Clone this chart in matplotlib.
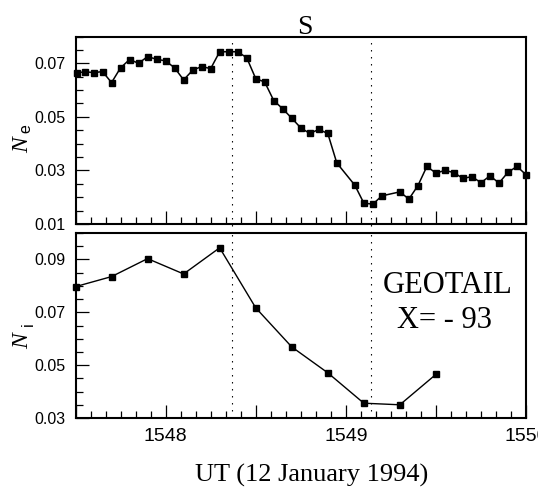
import matplotlib
matplotlib.use('Agg')
import matplotlib.pyplot as plt
from matplotlib.ticker import MultipleLocator, FixedLocator, FuncFormatter

# electron density, 3 s samples (UT as HHMM.fraction)
ne_time = [1547.51, 1547.55, 1547.60, 1547.65, 1547.70, 1547.75, 1547.80, 1547.85, 1547.90, 1547.95,
           1548.00, 1548.05, 1548.10, 1548.15, 1548.20, 1548.25, 1548.30, 1548.35, 1548.40, 1548.45,
           1548.50, 1548.55, 1548.60, 1548.65, 1548.70, 1548.75, 1548.80, 1548.85, 1548.90, 1548.95,
           1549.05, 1549.10, 1549.15, 1549.20,
           1549.30, 1549.35, 1549.40, 1549.45, 1549.50, 1549.55, 1549.60, 1549.65, 1549.70, 1549.75,
           1549.80, 1549.85, 1549.90, 1549.95, 1550.00]
ne_vals = [0.0663, 0.0669, 0.0665, 0.0669, 0.0628, 0.0683, 0.0714, 0.0700, 0.0725, 0.0715,
           0.0709, 0.0683, 0.0638, 0.0674, 0.0688, 0.0680, 0.0743, 0.0743, 0.0743, 0.0721,
           0.0643, 0.0630, 0.0561, 0.0530, 0.0495, 0.0459, 0.0438, 0.0453, 0.0438, 0.0328,
           0.0245, 0.0178, 0.0174, 0.0205,
           0.0220, 0.0193, 0.0243, 0.0315, 0.0290, 0.0300, 0.0292, 0.0270, 0.0277, 0.0254,
           0.0280, 0.0253, 0.0293, 0.0315, 0.0284]

# ion density, 12 s samples
ni_time = [1547.50, 1547.70, 1547.90, 1548.10, 1548.30, 1548.50, 1548.70, 1548.90, 1549.10, 1549.30, 1549.50]
ni_vals = [0.0797, 0.0835, 0.0903, 0.0845, 0.0944, 0.0717, 0.0569, 0.0471, 0.0356, 0.0350, 0.0465]

marks = [1548.37, 1549.14]   # dotted markers

W, H = 538., 488.
SERIF = 'Liberation Serif'
plt.rcParams['font.family'] = ['Liberation Sans', 'DejaVu Sans']

fig = plt.figure(figsize=(W / 100, H / 100), dpi=100)


def box(l, t, r, b):
    return [l / W, 1 - b / H, (r - l) / W, (b - t) / H]


ax1 = fig.add_axes(box(75.5, 36.5, 526, 224))
ax2 = fig.add_axes(box(75.5, 233, 526, 418))

int_fmt = FuncFormatter(lambda v, p: '%d' % round(v) if abs(v - round(v)) < 1e-6 else '')

for ax in (ax1, ax2):
    for sp in ax.spines.values():
        sp.set_linewidth(1.5)
    ax.set_xlim(1547.5, 1550)
    ax.xaxis.set_major_locator(MultipleLocator(0.5))
    ax.xaxis.set_minor_locator(MultipleLocator(1 / 12))
    ax.xaxis.set_major_formatter(int_fmt)
    ax.yaxis.set_minor_locator(MultipleLocator(0.005))
    ax.yaxis.set_major_formatter(FuncFormatter(lambda v, p: '%.2f' % v))
    ax.tick_params(which='both', direction='in', top=False, right=False, width=0.9)
    ax.tick_params(which='major', length=9.5)
    ax.tick_params(which='minor', length=5)
    ax.tick_params(axis='y', labelsize=11.5, pad=7)
    ax.tick_params(axis='x', labelsize=14, pad=7)

ax1.set_ylim(0.01, 0.08)
ax1.yaxis.set_major_locator(FixedLocator([0.01, 0.03, 0.05, 0.07]))
ax1.tick_params(axis='x', labelbottom=False)
ax2.set_ylim(0.03, 0.10)
ax2.yaxis.set_major_locator(FixedLocator([0.03, 0.05, 0.07, 0.09]))

ax1.plot(ne_time, ne_vals, '-s', color='k', lw=1.1, ms=4.3, clip_on=False, zorder=5)
ax2.plot(ni_time, ni_vals, '-s', color='k', lw=1.0, ms=4.0, clip_on=False, zorder=5)

for t in marks:
    ax1.axvline(t, ymin=-0.05, ymax=1.02, color='k', lw=0.8,
                linestyle=(0, (1.3, 5.0)), clip_on=False)
    ax2.axvline(t, color='k', lw=0.8, linestyle=(0, (1.3, 5.0)))

# y labels: italic N with small sans subscript
def ylab(x, y, main, sub, xs, ys):
    fig.text(x / W, 1 - y / H, main, family=SERIF, style='italic', size=17,
             rotation=90, rotation_mode='anchor', ha='left', va='baseline')
    fig.text(xs / W, 1 - ys / H, sub, size=11.5,
             rotation=90, rotation_mode='anchor', ha='left', va='baseline')


ylab(28.3, 153, 'N', 'e', 30.5, 133)
ylab(27.7, 349, 'N', 'i', 32.5, 326)

fig.text(305 / W, 1 - 33.6 / H, 'S', family=SERIF, size=20, ha='center', va='baseline')
fig.text(448 / W, 1 - 292.7 / H, 'GEOTAIL', family=SERIF, size=22, ha='center', va='baseline')
fig.text(444.6 / W, 1 - 328 / H, 'X= - 93', family=SERIF, size=22, ha='center', va='baseline')
fig.text(312 / W, 1 - 481.7 / H, 'UT (12 January 1994)', family=SERIF, size=19,
         ha='center', va='baseline')

fig.savefig('out.png', dpi=100)
